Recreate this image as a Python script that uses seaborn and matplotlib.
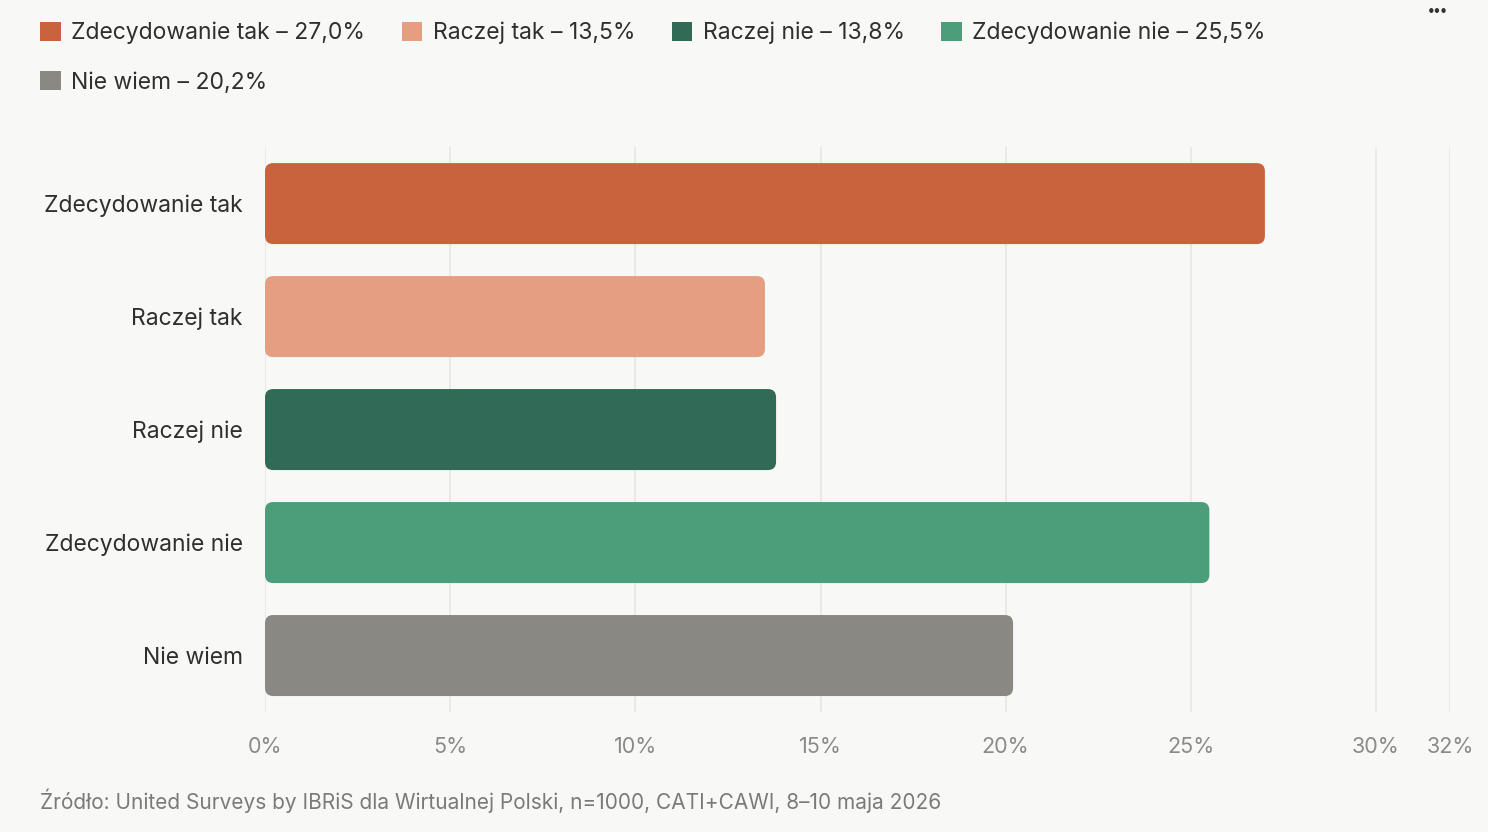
import matplotlib.pyplot as plt
import seaborn as sns
import pandas as pd
from matplotlib.patches import FancyBboxPatch, Patch

categories = ["Zdecydowanie tak", "Raczej tak", "Raczej nie", "Zdecydowanie nie", "Nie wiem"]
values = [27.0, 13.5, 13.8, 25.5, 20.2]
colors = ["#c9633e", "#e59e82", "#316b57", "#4c9e7b", "#8a8883"]
xticks = [0, 5, 10, 15, 20, 25, 30, 32]
source = "Źródło: United Surveys by IBRiS dla Wirtualnej Polski, n=1000, CATI+CAWI, 8–10 maja 2026"

bg = "#f8f8f6"
sns.set_style("white")
plt.rcParams['font.family'] = ['Inter', 'DejaVu Sans']

df = pd.DataFrame({"kategoria": categories, "procent": values})

fig = plt.figure(figsize=(14.88, 8.32), dpi=100, facecolor=bg)
ax = fig.add_axes([0.1781, 0.1442, 0.7964, 0.679])
ax.set_facecolor(bg)

sns.barplot(data=df, x="procent", y="kategoria", hue="kategoria", palette=colors,
            order=categories, legend=False, width=0.717, saturation=1, ax=ax, zorder=3)

# swap the plain rectangles for rounded ones
for p in list(ax.patches):
    x0, y0 = p.get_x(), p.get_y()
    w, h = p.get_width(), p.get_height()
    fc = p.get_facecolor()
    p.remove()
    ax.add_patch(FancyBboxPatch((x0, y0), w, h,
                                boxstyle="round,pad=0,rounding_size=0.22",
                                mutation_aspect=0.33, facecolor=fc,
                                edgecolor="none", zorder=3))

ax.set_xlim(0, 32)
ax.set_ylim(4.5, -0.5)
ax.set_xticks(xticks)
ax.set_xticklabels([f"{t}%" for t in xticks])
ax.xaxis.grid(True, color="#e8e8e5", linewidth=1.3, zorder=0)
ax.yaxis.grid(False)
for s in ax.spines.values():
    s.set_visible(False)
ax.tick_params(axis="x", length=0, pad=18, labelsize=15.5, labelcolor="#8a8a86")
ax.tick_params(axis="y", length=0, pad=16, labelsize=16.5, labelcolor="#2f2f2f")
ax.set_xlabel("")
ax.set_ylabel("")

# legend, reordered so the entries read across rows
labels = [f"{c} – {v:.1f}%".replace(".", ",") for c, v in zip(categories, values)]
handles = [Patch(facecolor=col, edgecolor="none") for col in colors]
order = [0, 4, 1, 2, 3]
fig.legend([handles[i] for i in order], [labels[i] for i in order],
           loc="upper left", bbox_to_anchor=(0.013, 0.999), ncol=4,
           frameon=False, fontsize=16.5, labelcolor="#2f2f2f",
           handlelength=0.9, handleheight=0.9, handletextpad=0.45,
           columnspacing=1.6, labelspacing=1.2, borderaxespad=0.5)

fig.text(0.966, 0.987, "•••", fontsize=10, fontweight="bold", color="#333333",
         ha="center", va="center")
fig.text(0.027, 0.038, source, fontsize=15, color="#7a7a76", ha="left", va="center")

fig.savefig("out.png", dpi=100, facecolor=bg)
